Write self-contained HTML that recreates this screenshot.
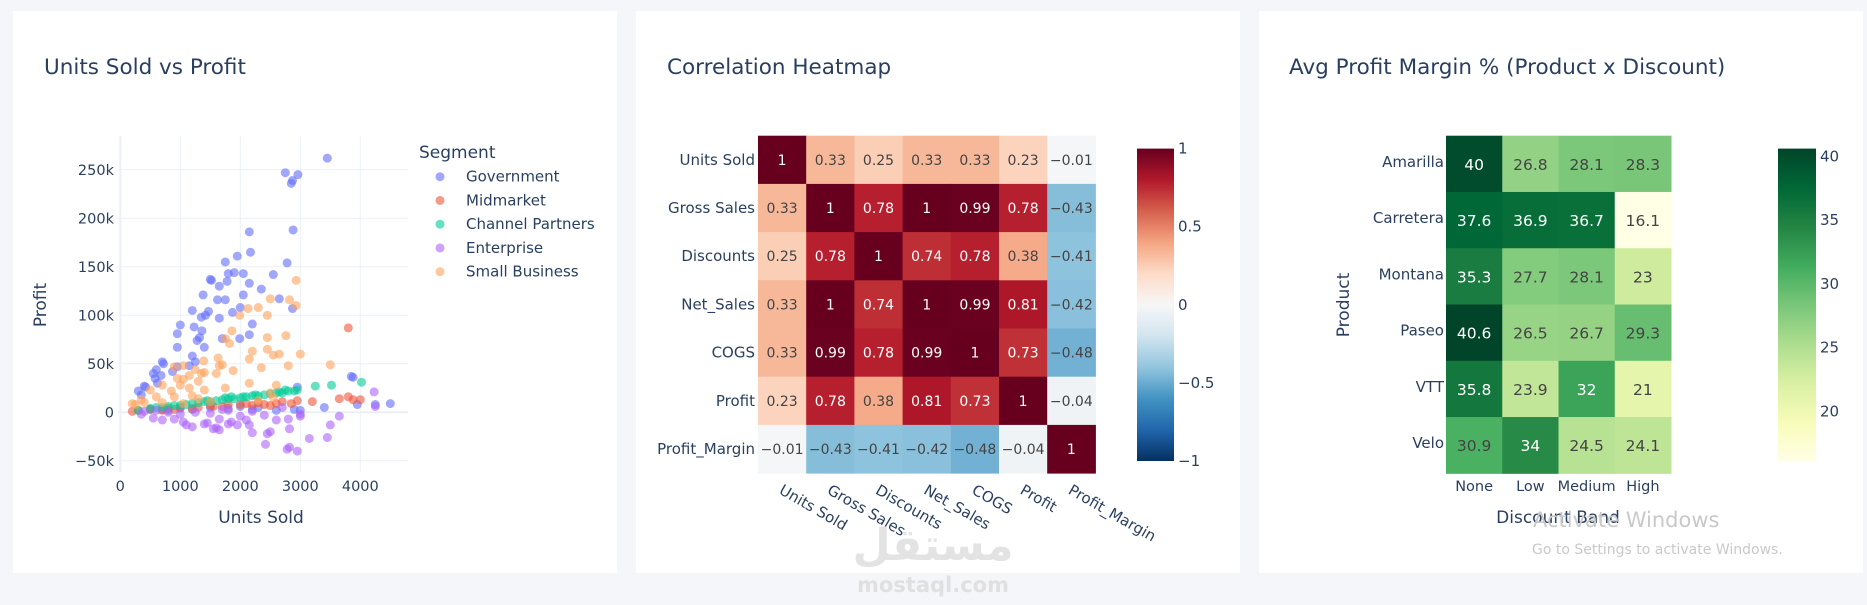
<!DOCTYPE html>
<html><head><meta charset="utf-8">
<style>
html,body{margin:0;padding:0;background:#f4f6fa;}
svg{display:block;font-family:"DejaVu Sans","Liberation Sans",sans-serif;}
</style></head>
<body>
<svg id="root" width="1867" height="605" viewBox="0 0 1867 605" xmlns="http://www.w3.org/2000/svg">
  <rect x="0" y="0" width="1867" height="605" fill="#f4f6fa"/>
  <rect x="13" y="11" width="604" height="562" fill="#fff"/>
  <rect x="636" y="11" width="604" height="562" fill="#fff"/>
  <rect x="1259" y="11" width="604" height="562" fill="#fff"/>

  <text x="44" y="74" font-size="21.5" fill="#2a3f5f">Units Sold vs Profit</text>
  <text x="667" y="74" font-size="21.5" fill="#2a3f5f">Correlation Heatmap</text>
  <text x="1289" y="74" font-size="21.5" fill="#2a3f5f">Avg Profit Margin % (Product x Discount)</text>

  <g id="scatter"></g>
  <g id="corr"></g>
  <g id="margin"></g>

  <text x="1533" y="527" font-size="21" fill="#c9c9c9">Activate Windows</text>
  <text x="1532" y="554" font-size="14" fill="#c9c9c9">Go to Settings to activate Windows.</text>
  <text x="933" y="560" font-size="44" font-weight="bold" fill="#e3e3e3" text-anchor="middle">مستقل</text>
  <text x="933" y="592" font-size="21" font-weight="bold" fill="#e0e0e0" text-anchor="middle">mostaql.com</text>
</svg>
<script>
const NS="http://www.w3.org/2000/svg";
function mk(tag,attrs,parent,txt){const e=document.createElementNS(NS,tag);for(const k in attrs)e.setAttribute(k,attrs[k]);if(txt!==undefined)e.textContent=txt;parent.appendChild(e);return e;}

/* ---------- scatter data ---------- */
const segments=["Government","Midmarket","Channel Partners","Enterprise","Small Business"];
const segColors=["#636efa","#EF553B","#00cc96","#ab63fa","#FFA15A"];
const govUnits=[2750,2850,2870,2960,3450,2150,2880,2170,1950,1750,2780,1800,1900,2050,2550,1500,1520,2150,2350,1650,1780,2050,1380,1620,1750,2650,2870,2000,1200,1470,1870,1420,1350,1650,2200,1000,1230,1360,950,2150,1700,1990,1280,1320,1400,950,1200,1250,700,720,1150,950,600,870,550,580,680,620,400,300,350,420,3850,3880,2950,3400,3950,4250,4500,500,800,1200,1500,1800,2200,2600,2900,3000,2000,2300,1000,700];
const govProfit=[247,236,239,245,262,186,188,165,161,155,154,143,144,143,142,137,136,133,127,130,135,121,121,116,116,117,107,108,105,104,103,100,98,97,91,90,88,84,81,80,76,76,74,77,67,67,58,52,52,50,48,47,44,42,40,35,38,30,27,22,18,26,37,36,26,5,8,8,9,3,2,3,5,4,3,2,3,2,6,5,4,3];
const midUnits=[3800,3200,3650,3800,3880,4000,200,300,500,800,1000,1200,1500,1550,1800,2000,2100,2300,2400,2600,2700,2850,2950,1700,2200,1300,700,900,2500];
const midProfit=[87,11,14,16,13,13,1,2,3,4,5,4,7,6,8,8,9,10,8,9,11,9,12,6,7,5,2,3,7];
const chUnits=[300,500,700,900,1000,1100,1200,1300,1400,1500,1600,1700,1800,1900,2000,2100,2200,2300,2400,2500,2600,2700,2800,2900,2950,3250,3520,4020,800,1750,2250,2650,1850,1450,600,2050,2750];
const chProfit=[2,4,5,7,7,8,9,10,11,11,12,13,14,14,15,16,17,17,18,19,20,20,22,22,23,27,28,31,6,15,18,21,16,12,5,16,23];
const entUnits=[4230,4250,3650,3500,3150,3450,2950,2820,2780,2420,2450,2500,2820,2200,2150,1950,1800,1850,1650,1600,1550,1400,1450,1200,1100,1050,900,700,550,350,2800,2600,2400,2000,1650,2100,3000,400,800,1000,1500,1800,2200,2700,3000,600,1250,1700];
const entProfit=[21,6,-4,-13,-27,-26,-40,-36,-38,-33,-22,-20,-17,-21,-13,-13,-12,-10,-18,-16,-17,-12,-11,-15,-13,-10,-7,-8,-6,-2,-7,-8,-3,-4,-7,-8,-4,1,0,-2,-1,2,1,5,-2,2,0,3];
const sbUnits=[2930,2500,2820,2930,2130,2300,2450,1990,1860,2760,1750,2450,1820,2200,2450,2650,2550,3000,1630,2150,1390,1700,1650,2800,3500,2350,900,1050,1880,1250,1400,1350,1600,1150,950,1050,1300,700,1000,2150,1150,1750,2600,1400,500,850,600,350,1200,900,250,400,1050,1500,2300,2500,2550,700,200,1300];
const sbProfit=[136,117,116,110,107,108,100,100,84,79,76,77,71,63,65,60,59,60,56,55,53,49,48,48,49,46,47,48,43,44,41,40,40,38,35,34,32,28,28,30,25,25,28,23,23,22,16,13,17,16,8,10,9,11,12,20,15,10,9,14];
const xTicks=[0,1000,2000,3000,4000];
const yTicks=[-50,0,50,100,150,200,250];
const yTickLabels=["−50k","0","50k","100k","150k","200k","250k"];

/* ---------- correlation data ---------- */
const corrLabels=["Units Sold","Gross Sales","Discounts","Net_Sales","COGS","Profit","Profit_Margin"];
const corrRow0=[1,0.33,0.25,0.33,0.33,0.23,-0.01];
const corrRow1=[0.33,1,0.78,1,0.99,0.78,-0.43];
const corrRow2=[0.25,0.78,1,0.74,0.78,0.38,-0.41];
const corrRow3=[0.33,1,0.74,1,0.99,0.81,-0.42];
const corrRow4=[0.33,0.99,0.78,0.99,1,0.73,-0.48];
const corrRow5=[0.23,0.78,0.38,0.81,0.73,1,-0.04];
const corrRow6=[-0.01,-0.43,-0.41,-0.42,-0.48,-0.04,1];
const corrTicks=[1,0.5,0,-0.5,-1];
const corrTickLabels=["1","0.5","0","−0.5","−1"];

/* ---------- margin data ---------- */
const products=["Amarilla","Carretera","Montana","Paseo","VTT","Velo"];
const bands=["None","Low","Medium","High"];
const marginAmarilla=[40,26.8,28.1,28.3];
const marginCarretera=[37.6,36.9,36.7,16.1];
const marginMontana=[35.3,27.7,28.1,23];
const marginPaseo=[40.6,26.5,26.7,29.3];
const marginVTT=[35.8,23.9,32,21];
const marginVelo=[30.9,34,24.5,24.1];
const marginTicks=[40,35,30,25,20];

/* ---------- helpers ---------- */
function hex2rgb(h){return [parseInt(h.slice(1,3),16),parseInt(h.slice(3,5),16),parseInt(h.slice(5,7),16)];}
function scaleColor(stops,t){t=Math.max(0,Math.min(1,t));const n=stops.length-1;const i=Math.min(n-1,Math.floor(t*n));const f=t*n-i;const a=hex2rgb(stops[i]),b=hex2rgb(stops[i+1]);const c=a.map((v,k)=>Math.round(v+(b[k]-v)*f));return {css:`rgb(${c[0]},${c[1]},${c[2]})`,lum:(0.299*c[0]+0.587*c[1]+0.114*c[2])/255};}
const rdbu=["#053061","#2166ac","#4393c3","#92c5de","#d1e5f0","#f7f7f7","#fddbc7","#f4a582","#d6604d","#b2182b","#67001f"];
const ylgn=["#ffffe5","#f7fcb9","#d9f0a3","#addd8e","#78c679","#41ab5d","#238443","#006837","#004529"];

/* ---------- scatter ---------- */
(function(){
  const g=document.getElementById('scatter');
  const L=118,R=408,T=136,B=472;
  const sx=v=>120.3+v*0.06;
  const sy=v=>412.3-v*0.97;
  yTicks.forEach((t,i)=>{
    const ln=mk('line',{x1:L,x2:R,y1:sy(t),y2:sy(t),stroke:'#ebf0f8','stroke-width':t===0?2:1},g);
    
    
    const tx=mk('text',{x:L-4,y:sy(t)+5,'font-size':14.5,fill:'#2a3f5f','text-anchor':'end'},g,yTickLabels[i]);
    
    
  });
  xTicks.forEach(t=>{
    const ln=mk('line',{x1:sx(t),x2:sx(t),y1:T,y2:B,stroke:'#ebf0f8','stroke-width':t===0?2:1},g);
    
    
    const tx=mk('text',{x:sx(t),y:491,'font-size':14.5,fill:'#2a3f5f','text-anchor':'middle'},g,String(t));
    
    
  });
  const series=[[govUnits,govProfit],[midUnits,midProfit],[chUnits,chProfit],[entUnits,entProfit],[sbUnits,sbProfit]];
  series.forEach((s,si)=>{
    const sg=mk('g',{},g);
    
    
    s[0].forEach((u,i)=>{
      const c=mk('circle',{cx:sx(u),cy:sy(s[1][i]),r:4.5,fill:segColors[si],'fill-opacity':0.6},sg);
      
      
    });
  });
  const xt=mk('text',{x:261,y:523,'font-size':17,fill:'#2a3f5f','text-anchor':'middle'},g,'Units Sold');
  
  
  const yt=mk('text',{x:0,y:0,'font-size':17,fill:'#2a3f5f','text-anchor':'middle',transform:'translate(46,305) rotate(-90)'},g,'Profit');
  
  
  const lt=mk('text',{x:419,y:158,'font-size':17,fill:'#2a3f5f'},g,'Segment');
  
  
  segments.forEach((s,i)=>{
    const y=176.7+i*23.75;
    const lg=mk('g',{},g);
    
    
    mk('circle',{cx:440,cy:y,r:4.5,fill:segColors[i],'fill-opacity':0.6},lg);
    mk('text',{x:466,y:y+5,'font-size':15,fill:'#2a3f5f'},lg,s);
  });
})();

/* ---------- correlation heatmap ---------- */
(function(){
  const g=document.getElementById('corr');
  const x0=758,y0=135.7,cw=48.2,ch=48.2;
  const rows=[corrRow0,corrRow1,corrRow2,corrRow3,corrRow4,corrRow5,corrRow6];
  rows.forEach((row,r)=>{
    row.forEach((v,c)=>{
      const col=scaleColor(rdbu,(v+1)/2);
      const rc=mk('rect',{x:x0+c*cw,y:y0+r*ch,width:cw+0.5,height:ch+0.5,fill:col.css},g);
      
      
      const tx=mk('text',{x:x0+c*cw+cw/2,y:y0+r*ch+ch/2+5,'font-size':14,'text-anchor':'middle',fill:col.lum<0.5?'#fff':'#444'},g,String(v).replace('-','−'));
      
      
    });
    const lb=mk('text',{x:x0-3,y:y0+r*ch+ch/2+5,'font-size':15,'text-anchor':'end',fill:'#2a3f5f'},g,corrLabels[r]);
    
    
  });
  corrLabels.forEach((l,c)=>{
    const cx=x0+c*cw+cw/2-4;
    const tx=mk('text',{x:0,y:0,'font-size':15,fill:'#2a3f5f',transform:`translate(${cx},493) rotate(30)`},g,l);
    
    
  });
  const defs=mk('defs',{},g);
  const lg=mk('linearGradient',{id:'rdbuGrad',x1:0,y1:1,x2:0,y2:0},defs);
  rdbu.forEach((c,i)=>mk('stop',{offset:i/(rdbu.length-1),'stop-color':c},lg));
  const cb=mk('rect',{x:1137,y:148.6,width:37,height:312.4,fill:'url(#rdbuGrad)'},g);
  
  
  corrTicks.forEach((t,i)=>{
    const y=148.6+(1-t)/2*312.4;
    const tx=mk('text',{x:1178,y:y+5,'font-size':15,fill:'#2a3f5f'},g,corrTickLabels[i]);
    
    
  });
})();

/* ---------- margin heatmap ---------- */
(function(){
  const g=document.getElementById('margin');
  const x0=1446,y0=135.7,cw=56.25,ch=56.27;
  const rows=[marginAmarilla,marginCarretera,marginMontana,marginPaseo,marginVTT,marginVelo];
  const all=[].concat(...rows);
  const mn=Math.min(...all),mx=Math.max(...all);
  rows.forEach((row,r)=>{
    row.forEach((v,c)=>{
      const col=scaleColor(ylgn,(v-mn)/(mx-mn));
      const rc=mk('rect',{x:x0+c*cw,y:y0+r*ch,width:cw+0.5,height:ch+0.5,fill:col.css},g);
      
      
      const tx=mk('text',{x:x0+c*cw+cw/2,y:y0+r*ch+ch/2+6,'font-size':15.5,'text-anchor':'middle',fill:col.lum<0.5?'#fff':'#444'},g,String(v));
      
      
    });
    const lb=mk('text',{x:x0-2,y:y0+r*ch+ch/2+3,'font-size':15,'text-anchor':'end',fill:'#2a3f5f'},g,products[r]);
    
    
  });
  bands.forEach((b,c)=>{
    const tx=mk('text',{x:x0+c*cw+cw/2,y:491,'font-size':14.5,'text-anchor':'middle',fill:'#2a3f5f'},g,b);
    
    
  });
  const xt=mk('text',{x:1558,y:523,'font-size':17,fill:'#2a3f5f','text-anchor':'middle'},g,'Discount Band');
  
  
  const yt=mk('text',{x:0,y:0,'font-size':17,fill:'#2a3f5f','text-anchor':'middle',transform:'translate(1349,305) rotate(-90)'},g,'Product');
  
  
  const defs=mk('defs',{},g);
  const lg=mk('linearGradient',{id:'ylgnGrad',x1:0,y1:1,x2:0,y2:0},defs);
  ylgn.forEach((c,i)=>mk('stop',{offset:i/(ylgn.length-1),'stop-color':c},lg));
  const cb=mk('rect',{x:1778,y:148.6,width:38,height:312.4,fill:'url(#ylgnGrad)'},g);
  
  
  marginTicks.forEach(t=>{
    const y=148.6+(mx-t)/(mx-mn)*312.4;
    const tx=mk('text',{x:1820,y:y+5,'font-size':15,fill:'#2a3f5f'},g,String(t));
    
    
  });
})();
</script>
</body></html>
